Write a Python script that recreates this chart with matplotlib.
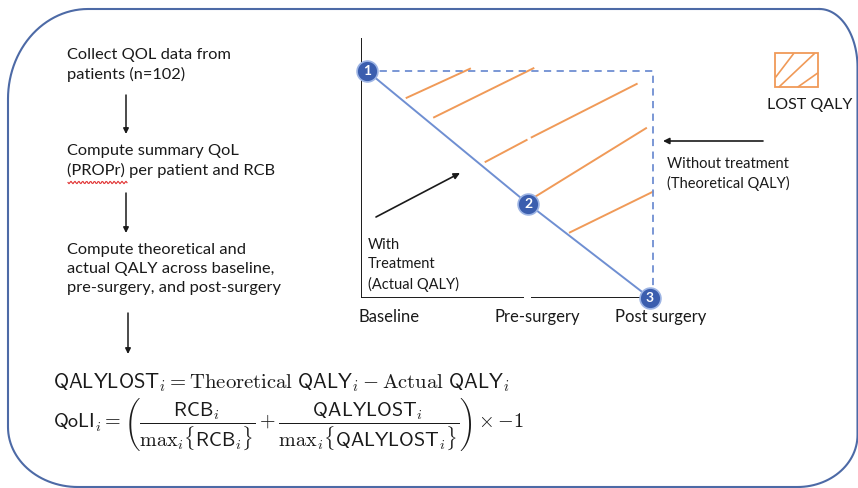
import numpy as np
import matplotlib
matplotlib.use("Agg")
import matplotlib.pyplot as plt
from matplotlib.patches import Rectangle

plt.rcParams['font.family'] = ['Lato', 'DejaVu Sans']
plt.rcParams['mathtext.fontset'] = 'cm'

# stages and QoL values of the actual (with treatment) curve
stages = ['Baseline', 'Pre-surgery', 'Post surgery']
stage_t = [0.0, 0.57, 1.0]
actual_qol = [1.0, 0.414, 0.0]
node_ids = ['1', '2', '3']

# hatch segments of the lost-QALY area (t0, q0, t1, q1)
hatch_segs = [
    (0.140, 0.882, 0.364, 1.010),
    (0.237, 0.796, 0.588, 1.012),
    (0.419, 0.600, 0.564, 0.696),
    (0.582, 0.708, 0.953, 0.943),
    (0.594, 0.446, 0.986, 0.748),
    (0.717, 0.289, 1.010, 0.468),
]

steps = [
    'Collect QOL data from\npatients (n=102)',
    'Compute summary QoL\n(PROPr) per patient and RCB',
    'Compute theoretical and\nactual QALY across baseline,\npre-surgery, and post-surgery',
]

eq1 = r'$\mathsf{QALYLOST}_i = \mathrm{Theoretical}\ \mathsf{QALY}_i - \mathrm{Actual}\ \mathsf{QALY}_i$'
eq2 = (r'$\mathsf{QoLI}_i = \left(\dfrac{\mathsf{RCB}_i}{\mathrm{max}_i\{\mathsf{RCB}_i\}} + '
       r'\dfrac{\mathsf{QALYLOST}_i}{\mathrm{max}_i\{\mathsf{QALYLOST}_i\}}\right) \times {-1}$')

BLUE = '#6f8fd2'
DARKBLUE = '#3b5eae'
ORANGE = '#f09a58'
FRAME = '#4d6aa6'
TXT = '#1a1a1a'

W, H = 858, 488
fig = plt.figure(figsize=(W / 100, H / 100), dpi=100)
ax = fig.add_axes([0, 0, 1, 1])
ax.set_xlim(0, W)
ax.set_ylim(H, 0)
ax.axis('off')


def corner(cx, cy, rx, ry, a0, a1):
    a = np.radians(np.linspace(a0, a1, 30))
    return cx + rx * np.cos(a), cy + ry * np.sin(a)


# frame with uneven rounded corners (y axis points down)
L, R, T, B = 8, 857.5, 9, 487
parts = [
    corner(R - 38, T + 58, 38, 58, -90, 0),
    corner(R - 60, B - 52, 60, 52, 0, 90),
    corner(L + 70, B - 60, 70, 60, 90, 180),
    corner(L + 80, T + 90, 80, 90, 180, 270),
]
fx = np.concatenate([p[0] for p in parts] + [parts[0][0][:1]])
fy = np.concatenate([p[1] for p in parts] + [parts[0][1][:1]])
ax.plot(fx, fy, color=FRAME, lw=1.5)

# flow steps on the left
step_y = [65, 161, 269]
for s, y in zip(steps, step_y):
    ax.text(67, y, s, fontsize=11.8, color=TXT, va='center', ha='left', linespacing=1.45)

# red spell-check squiggle under PROPr
xs = np.linspace(68, 127, 60)
ax.plot(xs, 182.5 + 1.2 * np.sin((xs - 68) * 1.6), color='#e03030', lw=0.8)

for x, y0, y1 in [(126, 95, 134), (126, 193, 233), (128, 313, 354)]:
    ax.annotate('', xy=(x, y1), xytext=(x, y0),
                arrowprops=dict(arrowstyle='-|>', color=TXT, lw=1.1,
                                mutation_scale=8, shrinkA=0, shrinkB=0))

# equations
ax.text(53, 388, eq1, fontsize=14.9, color=TXT, va='baseline', ha='left')
ax.text(53, 428, eq2, fontsize=14.5, color=TXT, va='baseline', ha='left')

# legend icon
ax.add_patch(Rectangle((775, 53), 43, 34, fc='white', ec=ORANGE, lw=1.3))
for (x0, y0, x1, y1) in [(776, 76.7, 793.3, 54), (779.3, 86.7, 814, 54), (798.3, 86.7, 817.3, 73.3)]:
    ax.plot([x0, x1], [y0, y1], color=ORANGE, lw=1.2)
ax.text(810, 105, 'LOST QALY', fontsize=11.5, color=TXT, ha='center', va='center')

# annotations around the QALY diagram
ax.text(368, 265, 'With\nTreatment\n(Actual QALY)', fontsize=10.5, color=TXT,
        ha='left', va='center', linespacing=1.5)
ax.annotate('', xy=(460, 173), xytext=(376, 217),
            arrowprops=dict(arrowstyle='-|>', color=TXT, lw=1.2, mutation_scale=9,
                            shrinkA=0, shrinkB=0))
ax.text(667, 174, 'Without treatment\n(Theoretical QALY)', fontsize=10.5, color=TXT,
        ha='left', va='center', linespacing=1.35)
ax.annotate('', xy=(663, 141), xytext=(763, 141),
            arrowprops=dict(arrowstyle='-|>', color=TXT, lw=1.2, mutation_scale=9,
                            shrinkA=0, shrinkB=0))

label_x = [358, 537, 661]
label_ha = ['left', 'center', 'center']
for s, x, ha in zip(stages, label_x, label_ha):
    ax.text(x, 317, s, fontsize=12, color=TXT, ha=ha, va='center')

# QALY diagram in its own axes
px_l, px_r, px_t, px_b = 361, 660, 38, 298
sx, sy = 283.0, 227.0
ax2 = fig.add_axes([px_l / W, 1 - px_b / H, (px_r - px_l) / W, (px_b - px_t) / H])
ax2.set_xlim(-6 / sx, (px_r - 367) / sx)
ax2.set_ylim(0, (px_b - px_t) / sy)
ax2.axis('off')
ax2.patch.set_alpha(0)

x_axis0 = -6 / sx
ax2.plot([x_axis0, x_axis0], [0, (px_b - px_t) / sy], color=TXT, lw=1.4)
ax2.plot([x_axis0, 0.555], [0, 0], color=TXT, lw=1.4, solid_capstyle='butt')
ax2.plot([0.58, 1.0], [0, 0], color=TXT, lw=1.4, solid_capstyle='butt')

for (t0, q0, t1, q1) in hatch_segs:
    ax2.plot([t0, t1], [q0, q1], color=ORANGE, lw=1.4)

# theoretical QALY (no decline) boundary
ax2.plot([stage_t[0], 1.012, 1.012], [actual_qol[0], actual_qol[0], actual_qol[-1]],
         color=BLUE, lw=1.3, ls=(0, (4, 3)), clip_on=False)
ax2.plot(stage_t, actual_qol, color=BLUE, lw=1.4, clip_on=False)
ax2.plot(stage_t, actual_qol, 'o', ms=15, mfc=DARKBLUE, mec='#9db4e4', mew=1.2,
         clip_on=False, ls='none', zorder=5)
for t, q, n in zip(stage_t, actual_qol, node_ids):
    ax2.text(t, q, n, color='white', fontsize=10, fontweight='bold',
             ha='center', va='center', zorder=6, clip_on=False)

fig.savefig('out.png', dpi=100)
